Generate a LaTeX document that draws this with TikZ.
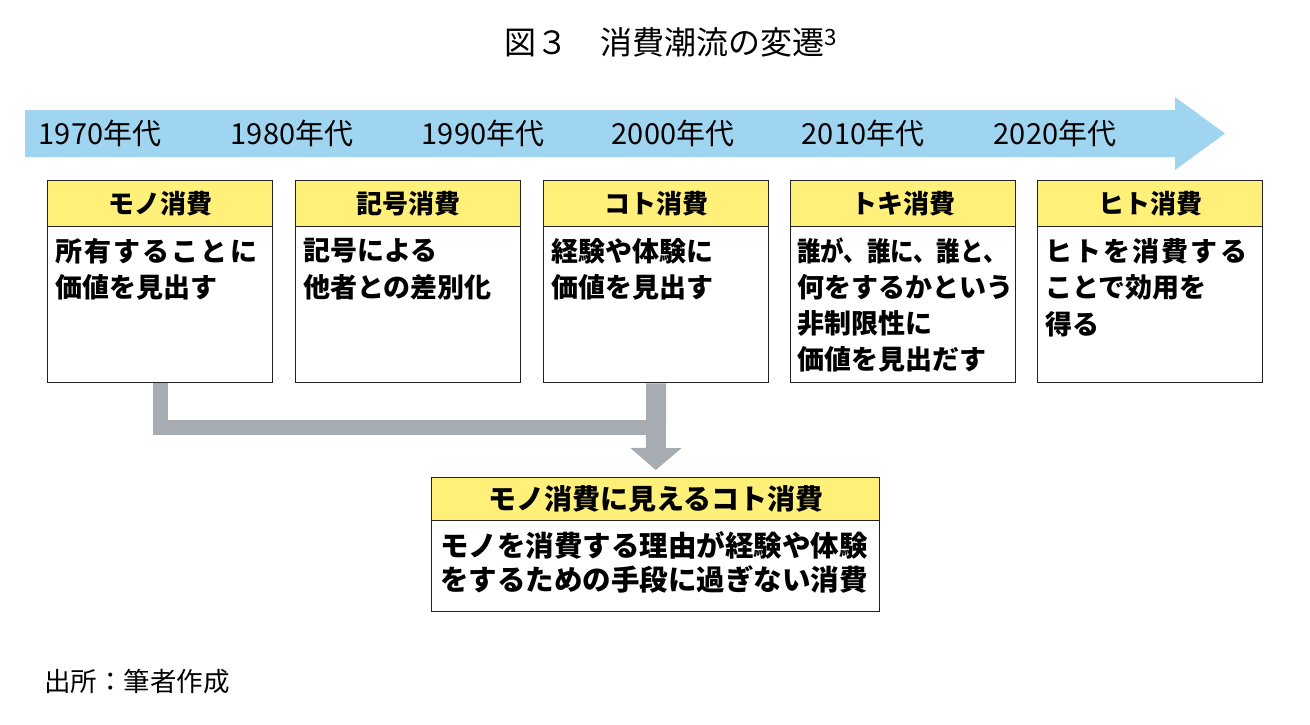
\documentclass[tikz,border=0pt]{standalone}
\usepackage{fontspec}
\setmainfont{Noto Sans CJK JP}
\usetikzlibrary{arrows.meta}
\definecolor{band}{HTML}{A0D5F2}
\definecolor{hdrY}{HTML}{FFF07A}
\definecolor{conn}{HTML}{A7ACB3}
\definecolor{edge}{HTML}{222222}
\newcommand{\wideline}[1]{{\addfontfeature{LetterSpace=8}#1}}
\tikzset{
  hdrbox/.style={draw=edge, line width=1.4pt, fill=hdrY, minimum width=225pt, minimum height=46pt, anchor=north west, inner sep=0pt, font=\fontsize{26}{30}\selectfont\bfseries},
  bodybox/.style={draw=edge, line width=1.4pt, fill=white, minimum width=225pt, minimum height=156pt, anchor=north west, inner sep=0pt},
  bodytxt/.style={anchor=north west, align=left, inner sep=0pt, font=\fontsize{27}{36.5}\selectfont\bfseries},
  year/.style={font=\fontsize{29}{32}\selectfont, inner sep=0pt},
  connline/.style={draw=conn, line width=15pt, line join=miter},
}
\begin{document}
\begin{tikzpicture}[x=1pt, y=-1pt]
\useasboundingbox (0,0) rectangle (1310,724);
% title
\node[font=\fontsize{32}{36}\selectfont] (title) at (671,42) {図３　消費潮流の変遷\textsuperscript{3}};
% timeline band
\fill[band] (25,110) -- (1175,110) -- (1175,97) -- (1225,133.5) -- (1175,170) -- (1175,157) -- (25,157) -- cycle;
\node[year] (y1) at (100,133) {1970年代};
\node[year] (y2) at (292,133) {1980年代};
\node[year] (y3) at (483,133) {1990年代};
\node[year] (y4) at (673,133) {2000年代};
\node[year] (y5) at (863,133) {2010年代};
\node[year] (y6) at (1055,133) {2020年代};
% boxes
\node[bodybox] (b1) at (47,226) {};
\node[hdrbox] (h1) at (47,180) {モノ消費};
\node[bodytxt] (t1) at (55,238) {\wideline{所有することに}\\価値を見出す};
\node[bodybox] (b2) at (295,226) {};
\node[hdrbox] (h2) at (295,180) {記号消費};
\node[bodytxt] (t2) at (303,238) {記号による\\他者との差別化};
\node[bodybox] (b3) at (543,226) {};
\node[hdrbox] (h3) at (543,180) {コト消費};
\node[bodytxt] (t3) at (551,238) {経験や体験に\\価値を見出す};
\node[bodybox] (b4) at (790,226) {};
\node[hdrbox] (h4) at (790,180) {トキ消費};
\node[bodytxt, font=\fontsize{27}{36}\selectfont\bfseries] (t4) at (797,238) {\scalebox{0.87}[1]{誰が、誰に、誰と、}\\何をするかという\\非制限性に\\価値を見出だす};
\node[bodybox] (b5) at (1037,226) {};
\node[hdrbox] (h5) at (1037,180) {ヒト消費};
\node[bodytxt] (t5) at (1045,238) {\wideline{ヒトを消費する}\\ことで効用を\\得る};
% bottom box
\node[bodybox, minimum width=448pt, minimum height=91pt] (bb) at (431,520) {};
\node[hdrbox, minimum width=448pt, minimum height=43pt, font=\fontsize{28}{32}\selectfont\bfseries] (bh) at (431,477) {モノ消費に見えるコト消費};
\node[bodytxt, font=\fontsize{28.5}{34}\selectfont\bfseries] (bt) at (440,531) {モノを消費する理由が経験や体験\\をするための手段に過ぎない消費};
% connectors
\coordinate (j) at (665,427);
\draw[connline] (b1.south) |- (j);
\draw[draw=conn, line width=20pt, -{Triangle[width=50pt, length=22pt]}, shorten >=7pt] (b3.south) -- (bh.north);
% source
\node[anchor=west, font=\fontsize{26.5}{30}\selectfont, inner sep=0pt] (src) at (44,681) {出所：筆者作成};
\end{tikzpicture}
\end{document}
